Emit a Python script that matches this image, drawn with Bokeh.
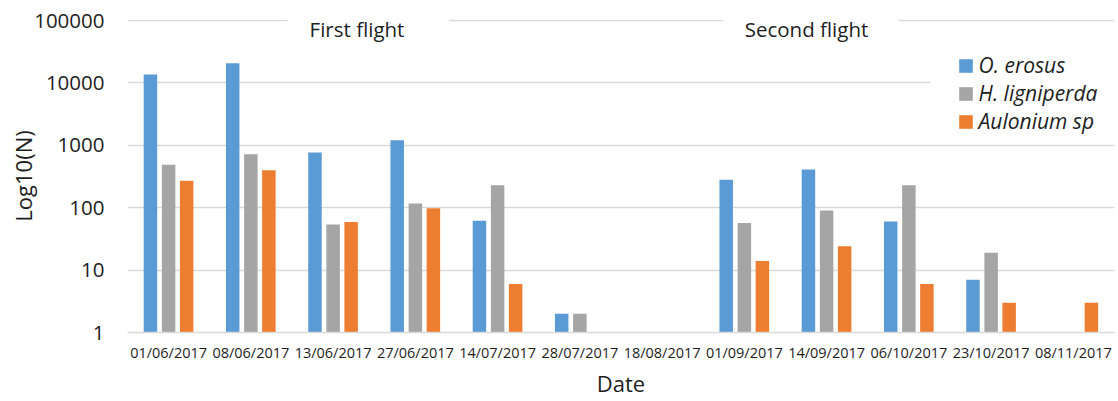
import math

from bokeh.embed import file_html
from bokeh.models import (BoxAnnotation, ColumnDataSource, FactorRange, FixedTicker,
                          Label, Legend, LegendItem, NumeralTickFormatter, Range1d)
from bokeh.plotting import figure
from bokeh.resources import INLINE
from bokeh.transform import dodge

# Trap dates and catches per species (0 = nothing caught)
dates = ["01/06/2017", "08/06/2017", "13/06/2017", "27/06/2017", "14/07/2017",
         "28/07/2017", "18/08/2017", "01/09/2017", "14/09/2017", "06/10/2017",
         "23/10/2017", "08/11/2017"]
o_erosus = [13600, 20600, 770, 1200, 62, 2, 0, 280, 410, 60, 7, 0]
h_ligniperda = [490, 720, 54, 117, 228, 2, 0, 57, 90, 228, 19, 0]
aulonium_sp = [270, 400, 59, 98, 6, 0, 0, 14, 24, 6, 3, 3]

series_names = ["O. erosus", "H. ligniperda", "Aulonium sp"]
series_colors = ["#5B9BD5", "#A5A5A5", "#ED7D31"]
y_ticks = [1, 10, 100, 1000, 10000, 100000]
flight_labels = ["First flight", "Second flight"]

FONT = "Open Sans"
TEXT = "#1e1e1e"
GRID = "#D9D9D9"

W, H = 1118, 401
LEFT, RIGHT, TOP, BOTTOM = 127, 4, 19, 69
FRAME_W = W - LEFT - RIGHT
FRAME_H = H - TOP - BOTTOM
# a pixel of head-room so the top grid line is not clipped by the frame
Y_END = 10 ** (5 + 1 / 62.4)


def to_plot(vals):
    # zero counts cannot sit on a log axis, so leave those bars out
    return [v if v > 0 else float("nan") for v in vals]


source = ColumnDataSource(data=dict(
    date=dates,
    s0=to_plot(o_erosus),
    s1=to_plot(h_ligniperda),
    s2=to_plot(aulonium_sp),
))

p = figure(
    width=W, height=H,
    x_range=FactorRange(factors=dates, range_padding=0),
    y_range=Range1d(1, Y_END),
    y_axis_type="log",
    output_backend="svg", toolbar_location=None,
    min_border_left=LEFT, min_border_right=RIGHT,
    min_border_top=TOP, min_border_bottom=BOTTOM,
)
p.outline_line_color = None
p.background_fill_color = "white"
p.border_fill_color = "white"

# grouped bars
offsets = [-0.221, 0.0, 0.219]
bar_w = 0.164
renderers = []
for i, (name, color) in enumerate(zip(series_names, series_colors)):
    r = p.vbar(x=dodge("date", offsets[i], range=p.x_range), top=f"s{i}", bottom=1,
               width=bar_w, source=source, fill_color=color, line_color=None)
    renderers.append(r)

# axes
p.xgrid.grid_line_color = None
p.ygrid.grid_line_color = GRID
p.ygrid.grid_line_width = 1.5
p.ygrid.minor_grid_line_color = None

p.yaxis.ticker = FixedTicker(ticks=y_ticks, minor_ticks=[])
p.yaxis.formatter = NumeralTickFormatter(format="0")
p.yaxis.axis_line_color = None
p.yaxis.major_tick_line_color = None
p.yaxis.minor_tick_line_color = None
p.yaxis.major_tick_out = 0
p.yaxis.major_tick_in = 0
p.yaxis.minor_tick_out = 0
p.yaxis.major_label_standoff = 23
p.yaxis.major_label_text_font = FONT
p.yaxis.major_label_text_font_size = "20.5px"
p.yaxis.major_label_text_color = TEXT
p.yaxis.axis_label = "Log10(N)"
p.yaxis.axis_label_standoff = -7
p.yaxis.axis_label_text_font = FONT
p.yaxis.axis_label_text_font_size = "22px"
p.yaxis.axis_label_text_font_style = "normal"
p.yaxis.axis_label_text_color = TEXT

p.xaxis.axis_line_color = GRID
p.xaxis.axis_line_width = 1.5
p.xaxis.major_tick_line_color = None
p.xaxis.major_tick_out = 0
p.xaxis.major_tick_in = 0
p.xaxis.major_label_standoff = 10
p.xaxis.major_label_text_font = FONT
p.xaxis.major_label_text_font_size = "14.5px"
p.xaxis.major_label_text_color = TEXT
p.xaxis.axis_label = "Date"
p.xaxis.axis_label_standoff = 3
p.xaxis.axis_label_text_font = FONT
p.xaxis.axis_label_text_font_size = "22px"
p.xaxis.axis_label_text_font_style = "normal"
p.xaxis.axis_label_text_color = TEXT


def sx(canvas_x):
    return canvas_x - LEFT


def sy(canvas_y):
    return (TOP + FRAME_H) - canvas_y


# white panels behind the flight captions and the legend
for l, r, t, b in [(287, 449, 6, 46), (723, 898, 6, 46), (930, W, 38, 138)]:
    p.add_layout(BoxAnnotation(left=sx(l), right=sx(r), top=sy(t), bottom=sy(b),
                               left_units="screen", right_units="screen",
                               top_units="screen", bottom_units="screen",
                               fill_color="white", fill_alpha=1.0, line_color=None))

for txt, cx in zip(flight_labels, [356.5, 806]):
    p.add_layout(Label(x=sx(cx), y=sy(28.2), x_units="screen", y_units="screen",
                       text=txt, text_align="center", text_baseline="alphabetic",
                       text_font=FONT, text_font_size="20.5px", text_color=TEXT))

legend = Legend(
    items=[LegendItem(label=n, renderers=[r]) for n, r in zip(series_names, renderers)],
    location=(sx(956.6), sy(135.3)),
    orientation="vertical",
    border_line_color=None,
    background_fill_alpha=0,
    padding=0, margin=0, spacing=0,
    label_height=26, glyph_height=17, glyph_width=17, label_standoff=5,
    label_text_font=FONT, label_text_font_style="italic",
    label_text_font_size="21px", label_text_color=TEXT,
)
p.add_layout(legend)

open("out.html", "w").write(file_html(p, INLINE))
